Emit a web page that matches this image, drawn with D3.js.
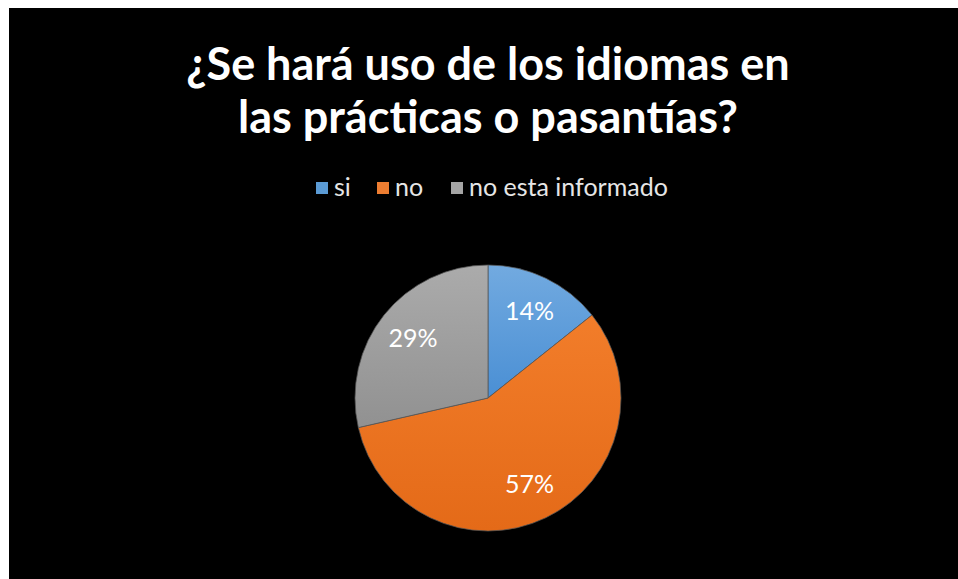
<!DOCTYPE html>
<html>
<head>
<meta charset="utf-8">
<script src="https://cdn.jsdelivr.net/npm/d3@7"></script>
<style>
  body { margin: 0; background: #fff; }
  svg { display: block; }
</style>
</head>
<body>
<svg></svg>
<script>
var categories = ["si", "no", "no esta informado"];
var values = [1, 4, 2];
var titleLines = ["¿Se hará uso de los idiomas en", "las prácticas o pasantías?"];
var colorsTop = ["#72aae0", "#f27d2a", "#ababab"];
var colorsBottom = ["#4a8fd4", "#e46a18", "#919191"];
var legendColors = ["#5b9bd5", "#ed7d31", "#a5a5a5"];

var svgWidth = 958;
var svgHeight = 579;
var cx = 488, cy = 398, radius = 133;

var svg = d3.select("svg")
    .attr("width", svgWidth)
    .attr("height", svgHeight);

// black chart area
svg.append("rect")
    .attr("x", 9).attr("y", 8)
    .attr("width", svgWidth - 9).attr("height", svgHeight - 8)
    .attr("fill", "#000");

// gradients per slice
var defs = svg.append("defs");
categories.forEach(function (c, i) {
    var g = defs.append("linearGradient")
        .attr("id", "grad" + i)
        .attr("x1", 0).attr("y1", 0).attr("x2", 0).attr("y2", 1);
    g.append("stop").attr("offset", "0%").attr("stop-color", colorsTop[i]);
    g.append("stop").attr("offset", "100%").attr("stop-color", colorsBottom[i]);
});

// title
svg.append("text")
    .attr("x", cx)
    .attr("font-family", "Lato, 'Open Sans', sans-serif")
    .attr("font-weight", "bold")
    .attr("font-size", 45)
    .attr("fill", "#fff")
    .attr("text-anchor", "middle")
    .selectAll("tspan")
    .data(titleLines)
    .enter()
    .append("tspan")
    .attr("x", cx)
    .attr("y", function (d, i) { return 80 + i * 53; })
    .text(function (d) { return d; });

// legend
var legendX = [316, 377, 451];
var legend = svg.selectAll(".legend")
    .data(categories)
    .enter()
    .append("g")
    .attr("class", "legend")
    .attr("transform", function (d, i) { return "translate(" + legendX[i] + ",182)"; });
legend.append("rect")
    .attr("width", 12).attr("height", 12)
    .attr("fill", function (d, i) { return legendColors[i]; });
legend.append("text")
    .attr("x", 18).attr("y", 14)
    .attr("font-family", "Lato, 'Open Sans', sans-serif")
    .attr("font-size", 25)
    .attr("fill", "#e6e6e6")
    .text(function (d) { return d; });

// pie
var pie = d3.pie().sort(null).value(function (d) { return d; });
var arc = d3.arc().innerRadius(0).outerRadius(radius);
var labelArc = d3.arc().innerRadius(radius * 0.72).outerRadius(radius * 0.72);
var total = d3.sum(values);

var g = svg.append("g").attr("transform", "translate(" + cx + "," + cy + ")");
g.selectAll("path")
    .data(pie(values))
    .enter()
    .append("path")
    .attr("d", arc)
    .attr("fill", function (d, i) { return "url(#grad" + i + ")"; })
    .attr("stroke", "#555")
    .attr("stroke-width", 0.75);

g.selectAll(".lbl")
    .data(pie(values))
    .enter()
    .append("text")
    .attr("class", "lbl")
    .attr("transform", function (d) { return "translate(" + labelArc.centroid(d) + ")"; })
    .attr("dy", "0.35em")
    .attr("text-anchor", "middle")
    .attr("font-family", "Lato, 'Open Sans', sans-serif")
    .attr("font-size", 25)
    .attr("fill", "#fff")
    .text(function (d) { return Math.round(d.value / total * 100) + "%"; });
</script>
</body>
</html>
